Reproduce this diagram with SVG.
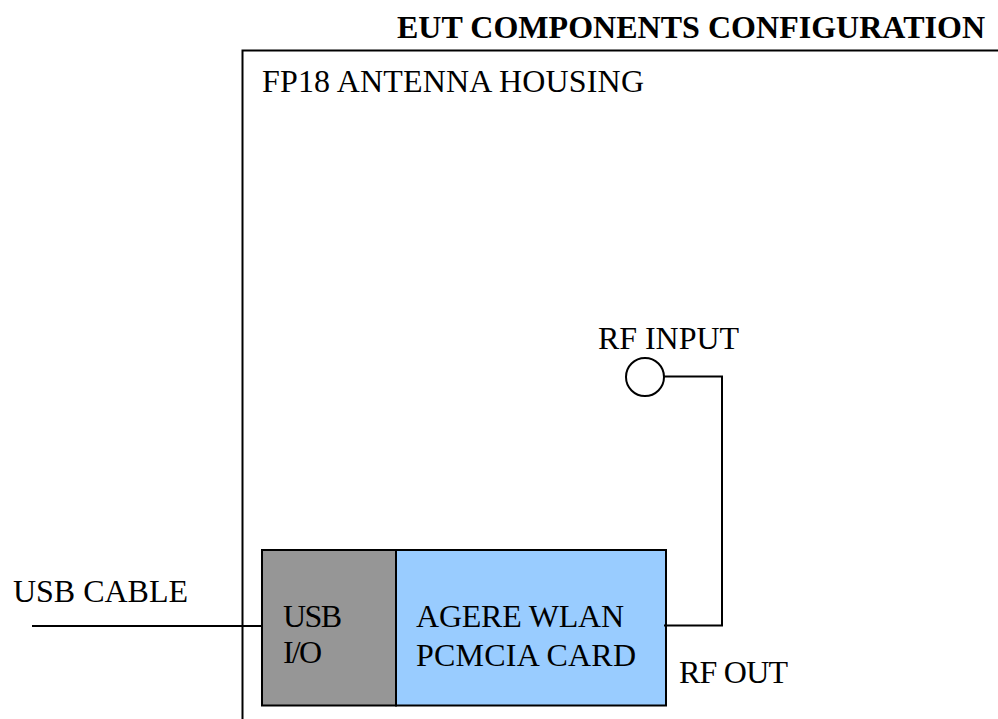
<svg xmlns="http://www.w3.org/2000/svg" width="998" height="719" viewBox="0 0 998 719">
<style>
text{font-family:"Liberation Serif","Times New Roman",serif;font-size:32px;fill:#000}
.b{font-weight:bold}
.l{fill:none;stroke:#000;stroke-width:2px}
</style>
<rect width="998" height="719" fill="#fff"/>
<text class="b" x="397" y="38" textLength="588">EUT COMPONENTS CONFIGURATION</text>
<g id="housing">
<path class="l" d="M242.500 719V50.500H998"/>
<text x="262" y="92" textLength="382">FP18 ANTENNA HOUSING</text>
</g>
<g id="usb-io">
<rect x="262" y="550" width="134" height="155.500" fill="#969696" stroke="#000" stroke-width="2"/>
<text x="283" y="627" textLength="59">USB</text>
<text x="283" y="663" textLength="39">I/O</text>
</g>
<g id="wlan-card">
<rect x="396" y="550" width="270" height="155.500" fill="#99ccff" stroke="#000" stroke-width="2"/>
<text x="416" y="627" textLength="208">AGERE WLAN</text>
<text x="416" y="666" textLength="220">PCMCIA CARD</text>
</g>
<g id="rf-input">
<circle cx="645" cy="377" r="19" fill="#fff" stroke="#000" stroke-width="2"/>
<text x="598" y="349" textLength="141">RF INPUT</text>
</g>
<g id="connectors">
<path class="l" d="M32 626H262"/>
<path class="l" d="M664 376.500H722V625.500H664"/>
</g>
<text id="usb-cable" x="13" y="602" textLength="175">USB CABLE</text>
<text id="rf-out" x="679" y="683" textLength="109">RF OUT</text>
</svg>
